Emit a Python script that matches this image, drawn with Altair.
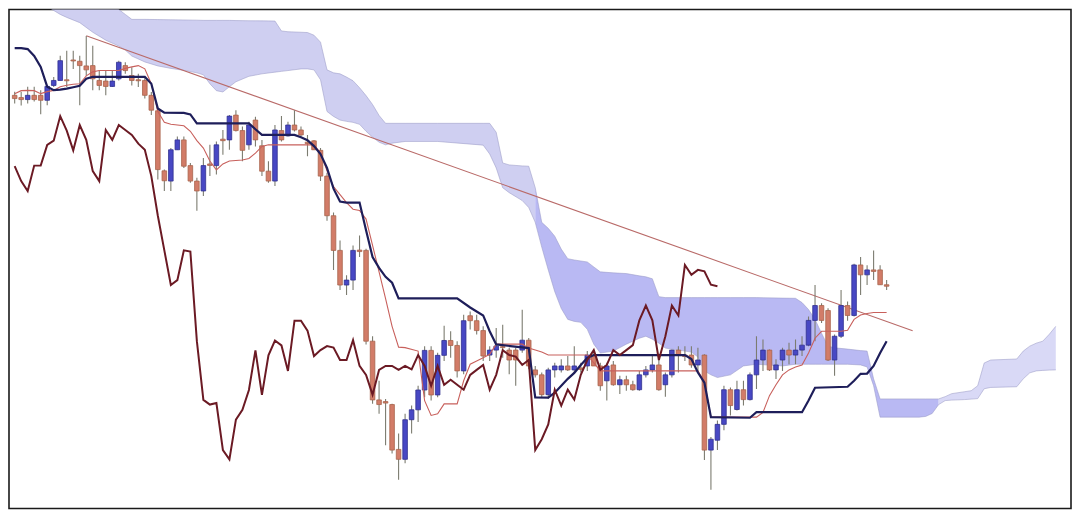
import altair as alt
import pandas as pd

# ---------------- data (price units) ----------------
opens = [408.3, 406, 404, 408.3, 408.3, 403.3, 418.3, 423.3, 424, 444, 442.7, 438, 438.3, 423.3, 422.7, 417.3,
         425, 438.3, 428.3, 424, 423.3, 408.3, 392.7, 332, 321.7, 353.3, 363.3, 337.3, 321.7, 311.7, 339, 337.3,
         364, 363.3, 388.3, 372.7, 358.3, 383.3, 357.3, 331.7, 321.7, 372.7, 367.3, 378.3, 373.3, 361, 362.3,
         352.7, 326.7, 286.7, 251.7, 216.7, 221.7, 252, 251.7, 160, 100.7, 99, 96, 50.7, 40.7, 80.7, 90.7, 110.7,
         150.7, 105.7, 145.7, 160.7, 155.7, 130, 185.7, 180.7, 170.7, 146, 151, 154.5, 151, 151, 151, 161, 131,
         126, 106, 131, 131, 135, 131, 133, 135, 146, 135, 120, 136, 116, 121, 116, 111, 126, 131, 136, 116, 126,
         151, 146, 146, 136, 146, 50, 60, 76, 111, 91, 111, 101, 126, 141, 151, 131, 141, 151, 146, 151, 156, 181,
         196, 191, 141, 165, 196, 186, 237, 227, 232, 232, 217]
highs = [412, 412, 417, 417, 413.3, 418.3, 426.7, 448.3, 453.3, 453.3, 448.3, 468.3, 458.3, 433.3, 433.3, 433.3,
         443.3, 441.7, 436.7, 430, 426.7, 411.7, 395, 333.3, 355, 366.7, 366.7, 340, 325, 345, 358.3, 361.7,
         373.3, 388.3, 393.3, 376.7, 381.7, 386.7, 363.3, 341.7, 378.3, 387.3, 381.7, 393.3, 376.7, 368.3, 363.3,
         355, 330, 290, 261.7, 226.7, 256.7, 266.7, 253.3, 165, 120, 101.7, 96.7, 66.7, 86.7, 95, 115, 155, 155,
         148.3, 175.7, 170, 160, 186.7, 190, 186.7, 175, 155, 173.3, 176.7, 153.3, 153.3, 191.7, 163.3, 135,
         128.3, 133.3, 138.3, 141.7, 145, 155, 138.3, 150, 150, 138.3, 138.3, 140, 125, 125, 120, 130, 135, 145,
         145, 128.3, 151.7, 155, 155, 155, 153.3, 146.7, 63.3, 80, 115, 113.3, 120, 120, 128.3, 165, 161.7, 151.7,
         141.7, 153.3, 158.3, 161.7, 165, 185, 216.7, 198.3, 193.3, 166.7, 211.7, 200, 238.3, 245, 236.7, 251.7,
         236.7, 221.7]
lows = [400, 398, 400, 402, 389.3, 398.3, 416.7, 423.3, 416.7, 435, 398.3, 428, 413.3, 413.3, 408.3, 416.7,
        423.3, 430, 418.3, 416.7, 405, 388.3, 323.3, 311.7, 311.7, 353.3, 335, 320, 291.7, 306.7, 326.7, 328.3,
        348.3, 353.3, 371.7, 341.7, 353.3, 356.7, 326.7, 320, 316.7, 361.7, 366.7, 371.7, 366.7, 346.7, 353.3,
        321.7, 281.7, 232, 211.7, 206.7, 211.7, 245, 156.7, 96.7, 86.7, 55, 46.7, 20, 36.7, 66.7, 78.3, 103.3,
        100, 103.3, 140, 143.3, 123.3, 126.7, 171.7, 166.7, 140, 140, 143.3, 143.3, 126.7, 115, 148.3, 131.7,
        123.3, 103.3, 101.7, 123.3, 128.3, 130, 128.3, 128.3, 130, 135, 110, 100, 115, 106.7, 110, 110, 110,
        123.3, 128.3, 110, 104, 123.3, 128.3, 140, 133.3, 130, 40, 10, 50, 70, 85, 90, 95, 100, 111.7, 130, 130,
        121.7, 130, 136.7, 136.7, 145, 155, 160, 178.3, 140, 125, 163.3, 180.7, 185, 206.7, 216.7, 221.7, 216.7,
        211.7]
closes = [405, 404, 408.3, 404, 403.3, 417.3, 423.3, 443.3, 423, 443, 438.3, 434, 425, 418.3, 417.3, 422.7,
          441.7, 433.3, 423.3, 423, 408.3, 393.3, 333.3, 322, 353.3, 363.3, 336.7, 321.7, 311.7, 337.3, 337.5,
          358.3, 362.5, 387.3, 372.7, 352.7, 378.3, 363.3, 331.7, 321.7, 373.3, 363.3, 378.3, 373.3, 368.3, 359.5,
          353.3, 326.7, 286.7, 251.7, 216.7, 221.7, 251.7, 250.5, 160, 100.7, 96, 97.5, 50, 40.7, 80.7, 90.7,
          110.7, 150.7, 105.7, 145.7, 160.7, 155.7, 130, 180.7, 180.7, 170.7, 145, 151, 155, 153.5, 141, 141, 161,
          135, 126, 106, 131, 135, 135, 131, 135, 131.5, 146, 135, 115, 135, 116, 121, 116, 111, 126, 131, 136,
          111, 126, 151, 146, 144.5, 136, 141, 50, 61, 76, 111, 95, 111, 101, 126, 141, 151, 131, 136, 151, 146,
          151, 156, 181, 196, 181, 141, 165, 196, 186, 237, 227, 232, 230.5, 217, 215.5]

# Tenkan-sen (conversion line)
tenkan_i = [0, 1, 2, 3, 4, 5, 6, 7, 8, 9, 10, 11, 12, 13, 16, 17, 18, 19, 20, 21, 22, 23, 24, 26, 27, 28, 29, 30,
            31, 32, 33, 35, 36, 37, 38, 39, 46, 47, 48, 49, 50, 51, 52, 53, 54, 55, 56, 57, 58, 59, 60, 62, 63,
            64, 65, 66, 68, 69, 70, 71, 72, 73, 74, 78, 79, 80, 81, 82, 88, 89, 90, 105, 106, 107, 114, 115, 116,
            117, 118, 119, 120, 121, 122, 123, 124, 127, 128, 129, 130, 131, 132, 134]
tenkan_v = [410, 413, 413.3, 413, 410, 412, 413.3, 417, 418.5, 419.5, 420, 428, 432, 433.3, 433.3, 435.5, 437,
            438.3, 435, 420, 392, 381, 379, 377.5, 372, 362.5, 355, 342, 333, 339, 342, 343, 344.5, 350, 356.7,
            358.3, 358.3, 350, 332, 316, 308, 300, 293.3, 292, 283.3, 256.7, 230, 203, 175, 154, 153.5, 150, 100,
            85, 86.7, 96.7, 96.7, 120, 136.7, 140, 143.3, 146.7, 157, 157, 153, 151, 149, 146, 146, 138, 130, 130,
            119, 83.3, 83.3, 88, 105, 116, 126, 131, 134, 136, 148, 163, 170, 170, 171, 182, 186.5, 188, 189, 189]

# Kijun-sen (base line)
kijun_i = [0, 1, 2, 3, 4, 5, 6, 7, 8, 9, 10, 11, 12, 20, 21, 22, 23, 26, 27, 28, 36, 37, 38, 43, 44, 45, 46, 47,
           48, 49, 50, 51, 53, 54, 55, 56, 57, 58, 59, 68, 70, 72, 73, 74, 79, 80, 82, 83, 84, 85, 86, 87, 88, 89,
           103, 104, 105, 106, 107, 113, 114, 121, 122, 123, 128, 129, 130, 131, 132, 133, 134]
kijun_v = [456, 456, 455, 448, 437, 417, 413.5, 414, 415, 416.5, 418, 425, 427, 427, 420, 395, 390.7, 390.5, 389,
           380, 380, 374, 368.3, 368.3, 366, 363, 357, 349, 335, 314, 301, 300, 300, 272, 245, 234, 225, 219,
           203.3, 203.3, 194, 186, 170, 156.7, 153, 103.3, 103, 108, 115, 122, 128, 136, 143, 146, 146, 142,
           128.3, 118, 83.3, 82.7, 88.3, 88.3, 100, 113, 114, 120, 127, 127.3, 135, 148, 160]

# Chikou span: closes plotted 26 periods back
SHIFT = 26
chikou_v = closes[SHIFT:]
chikou_i = list(range(len(chikou_v)))

# Kumo (cloud) upper / lower edges, projected 26 periods ahead
cloud_i = [4, 5, 6, 7, 8, 10, 12, 14, 16, 17, 18, 20, 22, 24, 26, 28, 29, 30, 31, 32, 33, 34, 36, 38, 40, 41,
           42, 44, 45, 46, 47, 48, 49, 50, 51, 52, 53, 54, 55, 56, 57, 58, 60, 65, 72, 73, 74, 75, 76, 78, 79,
           80, 81, 82, 83, 84, 85, 86, 87, 88, 89, 90, 92, 94, 96, 97, 98, 99, 100, 102, 104, 105, 106, 107, 108,
           110, 112, 114, 118, 120, 121, 122, 123, 124, 125, 126, 128, 130, 131, 132, 133, 139, 140, 141, 142,
           143, 144, 146, 147, 148, 149, 150, 154, 155, 156, 157, 158, 159, 160]
cloud_top = [540, 537, 535, 533, 531, 527, 524, 520, 495, 490, 485, 485, 484.8, 484.6, 484.4, 484.2, 484, 484,
             484, 484, 484, 483.8, 483.6, 483.5, 483.3, 473.3, 472.5, 472, 471.7, 469, 462, 434, 431, 430, 426.7,
             423, 416, 408, 399, 388, 380, 380, 380, 380, 380, 380, 371, 340, 338, 337, 336.7, 315, 280, 274,
             266, 253, 243.3, 242, 241, 240, 235, 230, 229, 228.3, 226, 225, 223, 205, 204, 204, 204, 204, 204,
             204, 204, 204, 204, 204, 203.5, 203.3, 199, 192, 182, 168, 155, 153.3, 152, 150.5, 150, 122, 101.7,
             101.7, 101.7, 101.7, 101.7, 104, 107, 109, 110, 115, 138, 141, 142, 150, 155, 158, 160, 167, 175]
cloud_bot = [510, 498, 494, 490, 487, 481.7, 472, 464, 458, 454, 448, 442, 438, 435.5, 433.5, 431, 429, 420,
             413, 411.7, 417, 422, 427.5, 430, 431.7, 432.5, 433.3, 435, 435, 434, 424, 392, 387, 383.3, 382,
             381, 379, 372, 366, 361, 358.3, 360, 361.7, 361.7, 358, 349, 335, 315, 310, 302, 295, 280, 255, 232,
             210, 193, 182, 180, 179, 172, 157, 148, 150, 157, 163, 165, 162, 158, 153, 151, 149, 144, 130, 126,
             123.3, 126, 135, 136.7, 135, 136.7, 136.7, 136.7, 136.7, 136.7, 136.7, 136.7, 136.7, 136, 134, 115,
             83.3, 83.3, 84, 87, 96, 100, 100.5, 101, 101.5, 102, 112, 113.3, 114, 122, 128, 130, 130.5, 130.8,
             131]
cloud_breaks = [80, 142]          # colour changes of the cloud
cloud_colors = ["#cfcff1", "#b9b9f3", "#d9d9f6"]

# Resistance trendline
trend_i = [11, 138]
trend_v = [468.5, 170.5]

# ---------------- frames ----------------
candles = pd.DataFrame({"i": list(range(len(opens))), "open": opens, "high": highs,
                        "low": lows, "close": closes})
candles["dir"] = ["up" if c > o else "down" for o, c in zip(opens, closes)]

cloud = pd.DataFrame({"i": cloud_i, "top": cloud_top, "bot": cloud_bot})

xs = alt.Scale(domain=[-0.106, 161.57], nice=False, zero=False)
ys = alt.Scale(domain=[-9, 495], nice=False, zero=False)
X = alt.X("i:Q", scale=xs, axis=None)

layers = []
bounds = [cloud_i[0]] + cloud_breaks + [cloud_i[-1]]
for k, col in enumerate(cloud_colors):
    lo, hi = bounds[k], bounds[k + 1]
    seg = cloud[(cloud["i"] >= lo) & (cloud["i"] <= hi)]
    layers.append(
        alt.Chart(seg).mark_area(color=col, clip=True).encode(
            x=X, y=alt.Y("top:Q", scale=ys, axis=None), y2="bot:Q")
    )
for fld in ["top", "bot"]:
    layers.append(
        alt.Chart(cloud).mark_line(color="#9c9cc8", strokeWidth=0.8, opacity=0.7, clip=True).encode(
            x=X, y=alt.Y(f"{fld}:Q", scale=ys, axis=None))
    )

trend = pd.DataFrame({"i": trend_i, "v": trend_v})
layers.append(alt.Chart(trend).mark_line(color="#b96a68", strokeWidth=1.1, clip=True).encode(
    x=X, y=alt.Y("v:Q", scale=ys, axis=None)))

layers.append(alt.Chart(candles).mark_rule(color="#7c7c70", strokeWidth=1.1, clip=True).encode(
    x=X, y=alt.Y("low:Q", scale=ys, axis=None), y2="high:Q"))

layers.append(alt.Chart(candles).mark_bar(width=4.6, strokeWidth=0.8, clip=True).encode(
    x=X, y=alt.Y("open:Q", scale=ys, axis=None), y2="close:Q",
    color=alt.Color("dir:N", scale=alt.Scale(domain=["up", "down"], range=["#4848c4", "#d27c68"]),
                    legend=None),
    stroke=alt.Stroke("dir:N", scale=alt.Scale(domain=["up", "down"], range=["#30308f", "#a8644c"]),
                      legend=None)))

tenkan = pd.DataFrame({"i": tenkan_i, "v": tenkan_v})
layers.append(alt.Chart(tenkan).mark_line(color="#c8605c", strokeWidth=1.1, clip=True).encode(
    x=X, y=alt.Y("v:Q", scale=ys, axis=None)))

kijun = pd.DataFrame({"i": kijun_i, "v": kijun_v})
layers.append(alt.Chart(kijun).mark_line(color="#1e1e5a", strokeWidth=2.2, clip=True).encode(
    x=X, y=alt.Y("v:Q", scale=ys, axis=None)))

chikou = pd.DataFrame({"i": chikou_i, "v": chikou_v})
layers.append(alt.Chart(chikou).mark_line(color="#6b1a24", strokeWidth=2, clip=True).encode(
    x=X, y=alt.Y("v:Q", scale=ys, axis=None)))

chart = alt.layer(*layers).properties(
    width=1064, height=500, padding=1, background="white"
).configure_view(stroke="#1a1a1a", strokeWidth=1.6)

chart.save("out.html", embed_options={"renderer": "svg", "actions": False})
